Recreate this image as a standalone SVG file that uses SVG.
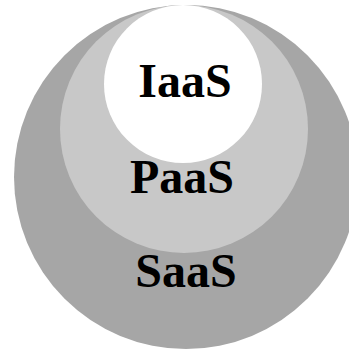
<svg xmlns="http://www.w3.org/2000/svg" width="349" height="351" viewBox="0 0 349 351">
<style>
.lbl{font-family:"Liberation Serif","Times New Roman",serif;font-weight:bold;font-size:48px;fill:#000;text-anchor:middle}
</style>
<rect width="349" height="351" fill="#fff"/>
<g id="saas">
<circle cx="186" cy="177" r="172" fill="#a6a6a6"/>
<text class="lbl" x="186" y="287">SaaS</text>
</g>
<g id="paas">
<circle cx="184" cy="129" r="124" fill="#c8c8c8"/>
<text class="lbl" x="182" y="193">PaaS</text>
</g>
<g id="iaas">
<circle cx="183" cy="84" r="79" fill="#fff"/>
<text class="lbl" x="185" y="97">IaaS</text>
</g>
</svg>
